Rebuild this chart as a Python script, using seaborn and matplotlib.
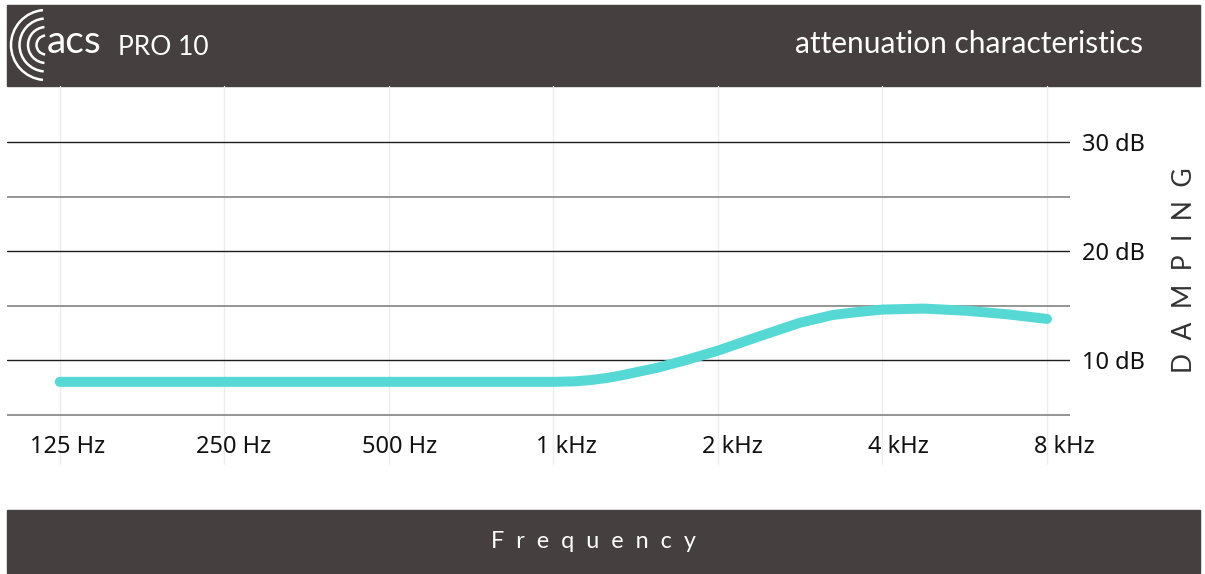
import matplotlib
matplotlib.use("Agg")
import matplotlib.pyplot as plt
from matplotlib.patches import Rectangle, Arc
from matplotlib.ticker import NullLocator
from matplotlib.transforms import ScaledTranslation
import seaborn as sns
import pandas as pd

# octave bands shown on the x axis
freq_ticks = [125, 250, 500, 1000, 2000, 4000, 8000]
freq_labels = ["125 Hz", "250 Hz", "500 Hz", "1 kHz", "2 kHz", "4 kHz", "8 kHz"]

# attenuation curve (Hz, dB)
curve_freq = [125, 250, 500, 1000, 1090, 1170, 1255, 1340, 1550, 1750, 2000,
              2370, 2830, 3250, 3600, 4000, 4760, 5700, 6760, 8000]
curve_db = [8.0, 8.0, 8.0, 8.0, 8.04, 8.16, 8.36, 8.62, 9.29, 10.0, 10.86,
            12.14, 13.43, 14.14, 14.4, 14.63, 14.72, 14.52, 14.2, 13.77]

db_ticks = [10, 20, 30]
db_minor = [5, 15, 25]

dark = "#453f3f"
curve_color = "#56d9d5"

sns.set_theme(style="white")
plt.rcParams['font.family'] = ['Noto Sans', 'DejaVu Sans']

W, H = 1205, 574
fig = plt.figure(figsize=(W / 100, H / 100), dpi=100)


def fx(px):
    return px / W


def fy(py):
    return 1 - py / H


# background layer in pixel coords: header / footer bars and logo
bg = fig.add_axes([0, 0, 1, 1])
bg.set_xlim(0, W)
bg.set_ylim(H, 0)
bg.axis('off')
bg.add_patch(Rectangle((7, 5), 1193, 81, color=dark))
bg.add_patch(Rectangle((7, 510), 1193, 63, color=dark))
for r in [35, 26.5, 18, 9.5]:
    bg.add_patch(Arc((46, 45), 2 * r, 2 * r, theta1=95, theta2=265,
                     color='white', lw=1.8))

head_font = ['Lato', 'DejaVu Sans']
bg.text(47, 53, "acs", fontsize=28, color='white', family=head_font,
        va='baseline')
bg.text(118, 55, "PRO 10", fontsize=19, color='white', family=head_font,
        va='baseline')
bg.text(1143, 53, "attenuation characteristics", fontsize=21.5, color='white',
        family=head_font, ha='right', va='baseline')
bg.text(593, 542, "F  r  e  q  u  e  n  c  y", fontsize=16.8, color='white',
        family=head_font, ha='center', va='center')
bg.text(1185, 270, "D  A  M  P  I  N  G", fontsize=19, color='#333333',
        family=head_font, rotation=90, ha='center', va='center')

# main chart
ax = fig.add_axes([fx(7), fy(465), fx(1070) - fx(7), fy(86) - fy(465)])
ax.set_facecolor('none')

df = pd.DataFrame({'freq': curve_freq, 'damping': curve_db})
sns.lineplot(data=df, x='freq', y='damping', ax=ax, color=curve_color,
             linewidth=7.2, solid_capstyle='round', solid_joinstyle='round')

ax.set_xscale('log', base=2)
ax.set_xlim(100.1, 8815)
ax.set_ylim(0.37, 35.14)
ax.set_xticks(freq_ticks, freq_labels)
ax.xaxis.set_minor_locator(NullLocator())
ax.set_yticks(db_ticks, [f"{v} dB" for v in db_ticks])
ax.set_yticks(db_minor, minor=True)
ax.yaxis.tick_right()

ax.tick_params(axis='y', which='both', length=0, pad=8.6, labelsize=17,
               colors='#111111')
ax.tick_params(axis='x', which='both', length=0, pad=-21.5, labelsize=17,
               colors='#111111')
# labels sit a little right of their grid lines in the original
for i, lab in enumerate(ax.get_xticklabels()):
    dx = (8 + 1.6 * i) / 100
    lab.set_transform(lab.get_transform() + ScaledTranslation(dx, 0, fig.dpi_scale_trans))

ax.grid(axis='x', color='#ececec', lw=1)
ax.grid(axis='y', which='major', color='#1e1e1e', lw=1.0)
ax.grid(axis='y', which='minor', color='#8c8c8c', lw=1.3)
for s in ax.spines.values():
    s.set_visible(False)
ax.set_xlabel('')
ax.set_ylabel('')

fig.savefig("out.png", dpi=100)
